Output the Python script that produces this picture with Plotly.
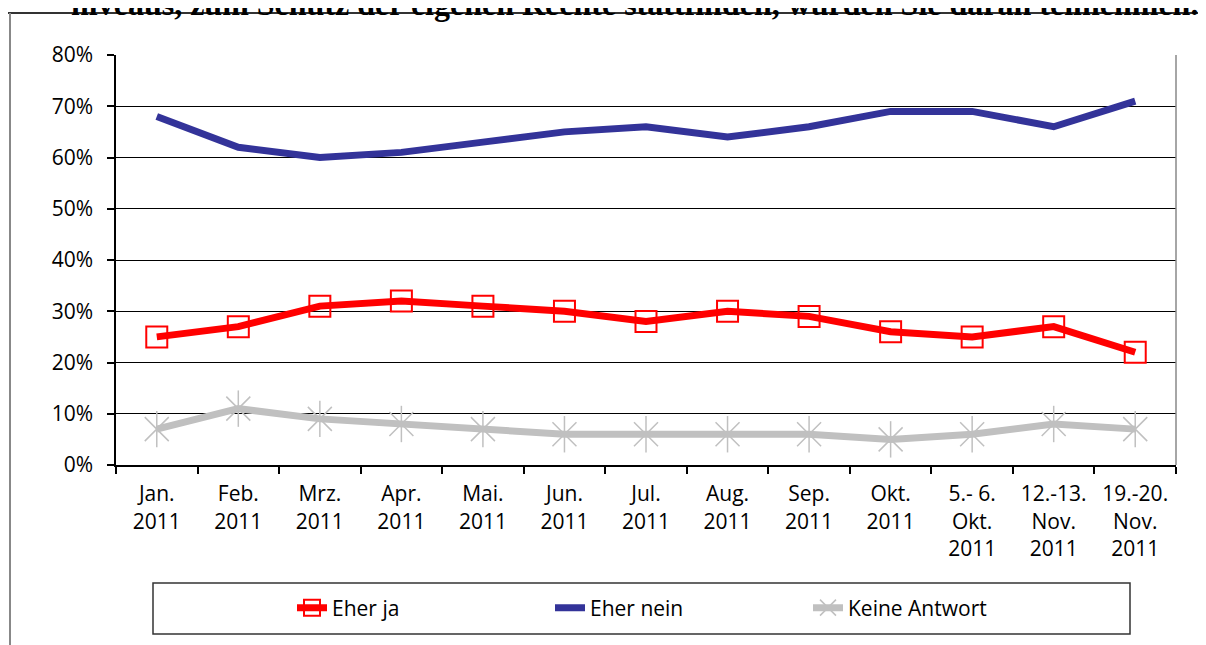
import plotly.graph_objects as go

categories = ["Jan.<br>2011", "Feb.<br>2011", "Mrz.<br>2011", "Apr.<br>2011", "Mai.<br>2011",
              "Jun.<br>2011", "Jul.<br>2011", "Aug.<br>2011", "Sep.<br>2011", "Okt.<br>2011",
              "5.- 6.<br>Okt.<br>2011", "12.-13.<br>Nov.<br>2011", "19.-20.<br>Nov.<br>2011"]
eher_ja = [25, 27, 31, 32, 31, 30, 28, 30, 29, 26, 25, 27, 22]
eher_nein = [68, 62, 60, 61, 63, 65, 66, 64, 66, 69, 69, 66, 71]
keine_antwort = [7, 11, 9, 8, 7, 6, 6, 6, 6, 5, 6, 8, 7]
y_ticks = [0, 10, 20, 30, 40, 50, 60, 70, 80]
title_text = "niveaus, zum Schutz der eigenen Rechte stattfinden, würden Sie daran teilnehmen."

FONT = "Open Sans"
OFF = 8  # page body margin
W, H = 1206 - OFF, 645 - OFF
# plot area in page pixels: x 116..1176, y 55..465
PL, PR, PT, PB = 116, 1176, 55, 465
L, T = PL - OFF, PT - OFF
R, B = W - (PR - OFF), H - (PB - OFF)
PW, PH = PR - PL, PB - PT

def px(x):
    return (x - PL) / PW

def py(y):
    return (PB - y) / PH

fig = go.Figure()
fig.add_trace(go.Scatter(
    x=categories, y=eher_ja, name="Eher ja", mode="lines+markers",
    line=dict(color="#FF0000", width=7),
    marker=dict(symbol="square-open", size=21, color="#FF0000", line=dict(width=2, color="#FF0000")),
))
fig.add_trace(go.Scatter(
    x=categories, y=eher_nein, name="Eher nein", mode="lines",
    line=dict(color="#333399", width=7),
))
fig.add_trace(go.Scatter(
    x=categories, y=keine_antwort, name="Keine Antwort", mode="lines+markers",
    line=dict(color="#C0C0C0", width=7),
    marker=dict(symbol="x-thin-open", size=24, color="#C0C0C0", line=dict(width=1.5, color="#C0C0C0")),
))
fig.add_trace(go.Scatter(
    x=categories, y=keine_antwort, mode="markers", showlegend=False, hoverinfo="skip",
    marker=dict(symbol="line-ns-open", size=26, color="#C0C0C0", line=dict(width=1.5, color="#C0C0C0")),
))

shapes = [
    dict(type="line", xref="paper", yref="paper", x0=px(5), x1=px(1220), y0=py(13), y1=py(13),
         line=dict(color="#333333", width=2)),
    dict(type="line", xref="paper", yref="paper", x0=px(10), x1=px(10), y0=py(13), y1=py(660),
         line=dict(color="#888888", width=2)),
    dict(type="line", xref="paper", yref="paper", x0=1, x1=1, y0=0, y1=1,
         line=dict(color="#888888", width=1.5)),
    dict(type="rect", xref="paper", yref="paper", x0=px(153), x1=px(1130), y0=py(634), y1=py(583),
         line=dict(color="#333333", width=1.5)),
]

fig.update_layout(
    width=W, height=H,
    margin=dict(l=L, r=R, t=T, b=B),
    paper_bgcolor="white", plot_bgcolor="white",
    font=dict(family=FONT, size=21, color="black"),
    showlegend=True,
    legend=dict(orientation="h", x=px(292), xanchor="left", y=py(608), yanchor="middle",
                entrywidth=213, entrywidthmode="pixels", font=dict(size=21),
                bgcolor="rgba(0,0,0,0)", borderwidth=0, traceorder="normal"),
    shapes=shapes,
    annotations=[dict(text="<b>" + title_text + "</b>", xref="paper", yref="paper",
                      x=px(1200), xanchor="right", y=py(24), yanchor="bottom", showarrow=False,
                      font=dict(family="Liberation Serif", size=32, color="black"))],
)
fig.update_xaxes(
    type="category", range=[-0.5, 12.5], showgrid=False,
    showline=True, linecolor="black", linewidth=2,
    ticks="outside", tickson="boundaries", ticklen=7, tickcolor="black", tickwidth=1.5,
    tickfont=dict(family=FONT, size=21), ticklabelstandoff=9,
)
fig.update_yaxes(
    range=[0, 80], tickvals=y_ticks, ticktext=[f"{v}%" for v in y_ticks],
    showgrid=True, gridcolor="black", gridwidth=1,
    showline=True, linecolor="black", linewidth=1.5,
    ticks="outside", ticklen=7, tickcolor="black", tickwidth=1.5,
    tickfont=dict(family=FONT, size=21), ticklabelstandoff=10, zeroline=False,
)
fig.write_html("out.html")
